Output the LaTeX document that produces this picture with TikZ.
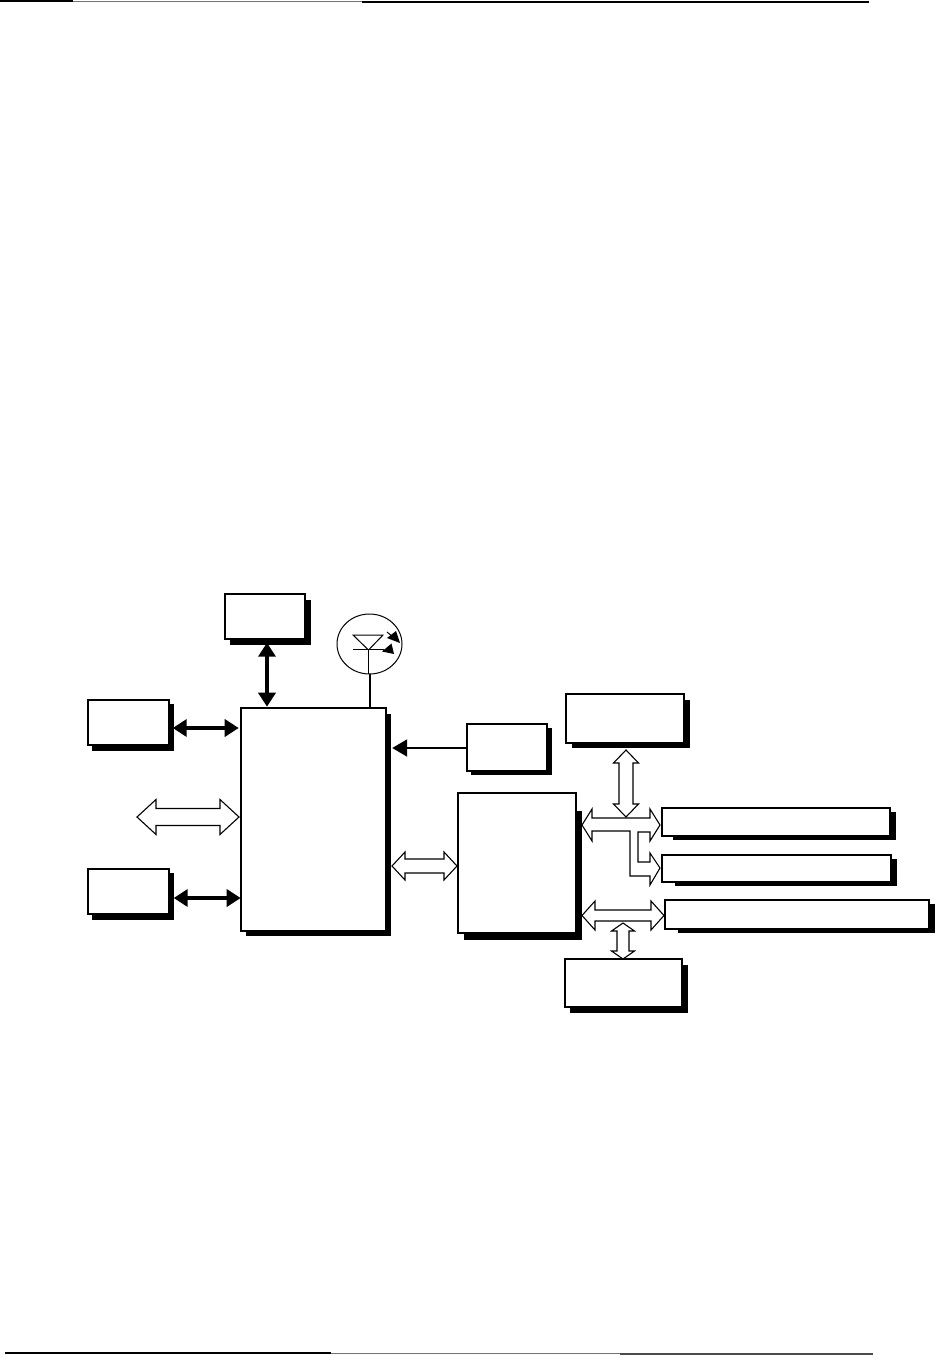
\documentclass[tikz,border=0pt]{standalone}
\usetikzlibrary{arrows.meta,calc,shapes.geometric}
\tikzset{
  boxnode/.style={draw=black,line width=2.2pt,fill=white,inner sep=0pt,outer sep=0pt},
  sarrow/.style={line width=3.6pt,black,{Triangle[length=14pt,width=17pt]}-{Triangle[length=14pt,width=17pt]}},
  oneway/.style={line width=2pt,black,-{Triangle[length=15pt,width=17pt]}},
  hollow/.style={draw=black,line width=1.1pt,fill=white,line join=miter},
  edgeblack/.style={black,line width=2pt},
  edgegray/.style={black!55,line width=1pt}
}
% name, x1,y1,x2,y2, shadow right, shadow bottom, shadow left, shadow top
\newcommand{\shbox}[9]{%
  \fill[black] (#8,#9) rectangle (#6,#7);
  \pgfmathsetmacro{\bxw}{#4-#2-1}\pgfmathsetmacro{\bxh}{#5-#3-1}%
  \node[boxnode,minimum width=\bxw pt,minimum height=\bxh pt] (#1) at ({(#2+#4)/2-.3},{(#3+#5)/2-.3}) {};
}
% horizontal double block arrow: left tip, right tip, y, head half, shaft half, head length
\newcommand{\dblh}[6]{%
  \draw[hollow] (#1,#3) -- (#1+#6,#3-#4) -- (#1+#6,#3-#5) -- (#2-#6,#3-#5) -- (#2-#6,#3-#4) -- (#2,#3)
    -- (#2-#6,#3+#4) -- (#2-#6,#3+#5) -- (#1+#6,#3+#5) -- (#1+#6,#3+#4) -- cycle;}
% vertical double block arrow: top tip, bottom tip, x, head half, shaft half, head length
\newcommand{\dblv}[6]{%
  \draw[hollow] (#3,#1) -- (#3-#4,#1+#6) -- (#3-#5,#1+#6) -- (#3-#5,#2-#6) -- (#3-#4,#2-#6) -- (#3,#2)
    -- (#3+#4,#2-#6) -- (#3+#5,#2-#6) -- (#3+#5,#1+#6) -- (#3+#4,#1+#6) -- cycle;}
\begin{document}
\begin{tikzpicture}[x=1pt,y=-1pt]
\useasboundingbox (0,0) rectangle (936,1355);
% page rules
\draw[edgeblack] (0,1) -- (73,1);
\draw[edgegray] (73,1.5) -- (362,1.5);
\draw[edgeblack] (362,2) -- (869,2);
\draw[edgeblack] (5,1353) -- (331,1353);
\draw[edgegray] (331,1353) -- (620,1353);
\draw[black!70,line width=2pt] (620,1354) -- (873,1354);
% boxes
\shbox{top}{225}{594}{306}{640}{311}{645}{230}{600}
\shbox{lt}{88}{700}{170}{746}{174}{751}{92}{704}
\shbox{lb}{88}{869}{170}{915}{174}{920}{92}{873}
\shbox{main}{241}{708}{387}{932}{391}{936}{246}{714}
\shbox{small}{467}{724}{548}{772}{552}{775}{471}{728}
\shbox{chip}{458}{793}{577}{934}{582}{940}{464}{811}
\shbox{rt}{566}{694}{685}{744}{690}{748}{572}{700}
\shbox{barone}{662}{808}{891}{837}{896}{840}{673}{812}
\shbox{bartwo}{662}{855}{892}{883}{897}{886}{675}{859}
\shbox{barthree}{665}{900}{930}{930}{935}{933}{678}{904}
\shbox{bot}{565}{959}{683}{1008}{688}{1013}{570}{965}
% solid arrows
\draw[sarrow,shorten <=3.5pt,shorten >=2.5pt] (lt.east |- 0,728) -- (main.west |- 0,728);
\draw[sarrow,shorten <=4.5pt,shorten >=.5pt] (lb.east |- 0,898) -- (main.west |- 0,898);
\draw[sarrow,shorten <=3.5pt,shorten >=1.5pt] (top.south -| 267,0) -- (main.north -| 267,0);
\draw[oneway,shorten >=6pt] (small.west |- 0,748) -- (main.east |- 0,748);
% LED
\node[draw=black,line width=1pt,ellipse,minimum width=65pt,minimum height=60pt,inner sep=0pt,outer sep=0pt] (led) at (369.5,644) {};
\draw[black,line width=1pt,line join=miter] (353,635) -- (383,635) -- (368.5,650) -- cycle;
\draw[black,line width=1pt] (353,649) -- (384,649);
\draw[black,line width=1.2pt] (368.5,649) -- (led.south -| 368.5,0);
\draw[black,line width=2pt] (led.south -| 369.5,0) -- (main.north -| 369.5,0);
\fill[black] (387,638) -- (396,631) -- (400,643) -- cycle;
\draw[black,line width=1pt] (387,632) -- (393,637);
\fill[black] (382,651.5) -- (391.5,643.5) -- (394,654) -- cycle;
% block arrows
\dblh{137}{239}{817}{17.5}{8.5}{19}
\dblh{392}{457}{866}{14}{7}{13}
\dblv{750}{817}{626}{12.5}{7}{13}
\draw[hollow] (582,825) -- (592,809) -- (592,818) -- (650,818) -- (650,809) -- (660,825) -- (650,841) -- (650,832) -- (638,832) -- (638,862) -- (650,862) -- (650,853) -- (660,868) -- (650,885) -- (650,876) -- (630,876) -- (630,831) -- (592,831) -- (592,841) -- cycle;
\dblh{582}{664}{915.5}{14.5}{5.5}{13}
\dblv{923}{959}{623}{11.5}{6}{8}
\end{tikzpicture}
\end{document}
